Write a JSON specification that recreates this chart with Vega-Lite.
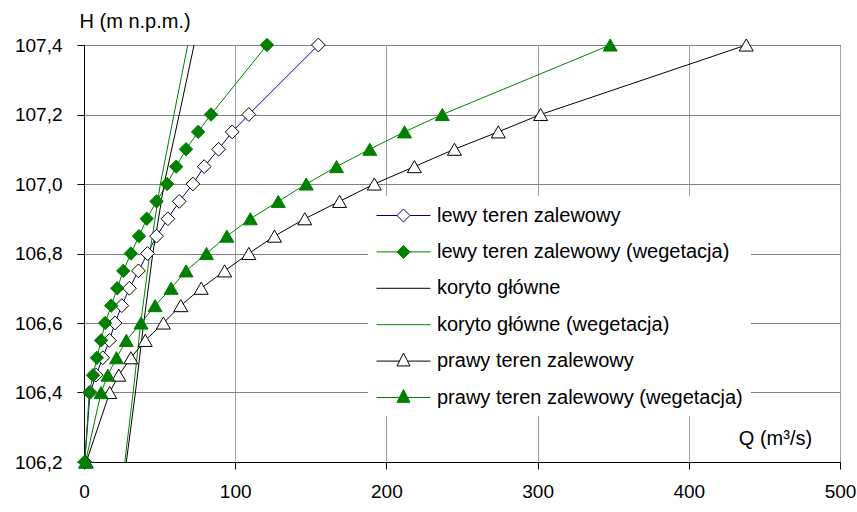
{
  "$schema": "https://vega.github.io/schema/vega-lite/v6.json",
  "width": 756,
  "height": 417,
  "autosize": {"type": "none"},
  "padding": {"left": 84, "top": 45, "right": 17, "bottom": 50},
  "background": "white",
  "config": {
    "font": "Liberation Sans",
    "view": {"stroke": "black", "strokeWidth": 1},
    "axis": {"labelColor": "black", "titleColor": "black", "domainColor": "black", "tickColor": "black", "titleFontWeight": "normal"}
  },
  "data": {"values": [
    {"s": "lewy teren zalewowy", "H": 106.2, "Q": 0.5},
    {"s": "lewy teren zalewowy", "H": 106.4, "Q": 4},
    {"s": "lewy teren zalewowy", "H": 106.45, "Q": 8},
    {"s": "lewy teren zalewowy", "H": 106.5, "Q": 12.4},
    {"s": "lewy teren zalewowy", "H": 106.55, "Q": 16.8},
    {"s": "lewy teren zalewowy", "H": 106.6, "Q": 20.5},
    {"s": "lewy teren zalewowy", "H": 106.65, "Q": 25},
    {"s": "lewy teren zalewowy", "H": 106.7, "Q": 30},
    {"s": "lewy teren zalewowy", "H": 106.75, "Q": 36},
    {"s": "lewy teren zalewowy", "H": 106.8, "Q": 42},
    {"s": "lewy teren zalewowy", "H": 106.85, "Q": 48},
    {"s": "lewy teren zalewowy", "H": 106.9, "Q": 55.5},
    {"s": "lewy teren zalewowy", "H": 106.95, "Q": 63},
    {"s": "lewy teren zalewowy", "H": 107.0, "Q": 72},
    {"s": "lewy teren zalewowy", "H": 107.05, "Q": 79.5},
    {"s": "lewy teren zalewowy", "H": 107.1, "Q": 89},
    {"s": "lewy teren zalewowy", "H": 107.15, "Q": 98},
    {"s": "lewy teren zalewowy", "H": 107.2, "Q": 109},
    {"s": "lewy teren zalewowy", "H": 107.4, "Q": 155},
    {"s": "lewy teren zalewowy (wegetacja)", "H": 106.2, "Q": 0.5},
    {"s": "lewy teren zalewowy (wegetacja)", "H": 106.4, "Q": 3.5},
    {"s": "lewy teren zalewowy (wegetacja)", "H": 106.45, "Q": 6},
    {"s": "lewy teren zalewowy (wegetacja)", "H": 106.5, "Q": 8.5},
    {"s": "lewy teren zalewowy (wegetacja)", "H": 106.55, "Q": 11.3},
    {"s": "lewy teren zalewowy (wegetacja)", "H": 106.6, "Q": 14},
    {"s": "lewy teren zalewowy (wegetacja)", "H": 106.65, "Q": 18},
    {"s": "lewy teren zalewowy (wegetacja)", "H": 106.7, "Q": 22},
    {"s": "lewy teren zalewowy (wegetacja)", "H": 106.75, "Q": 26},
    {"s": "lewy teren zalewowy (wegetacja)", "H": 106.8, "Q": 31},
    {"s": "lewy teren zalewowy (wegetacja)", "H": 106.85, "Q": 36.4},
    {"s": "lewy teren zalewowy (wegetacja)", "H": 106.9, "Q": 41.5},
    {"s": "lewy teren zalewowy (wegetacja)", "H": 106.95, "Q": 48},
    {"s": "lewy teren zalewowy (wegetacja)", "H": 107.0, "Q": 55},
    {"s": "lewy teren zalewowy (wegetacja)", "H": 107.05, "Q": 61},
    {"s": "lewy teren zalewowy (wegetacja)", "H": 107.1, "Q": 67.5},
    {"s": "lewy teren zalewowy (wegetacja)", "H": 107.15, "Q": 75.5},
    {"s": "lewy teren zalewowy (wegetacja)", "H": 107.2, "Q": 84},
    {"s": "lewy teren zalewowy (wegetacja)", "H": 107.4, "Q": 121},
    {"s": "koryto główne", "H": 106.2, "Q": 28},
    {"s": "koryto główne", "H": 106.4, "Q": 34},
    {"s": "koryto główne", "H": 106.6, "Q": 39.5},
    {"s": "koryto główne", "H": 106.8, "Q": 45.5},
    {"s": "koryto główne", "H": 107.0, "Q": 53},
    {"s": "koryto główne", "H": 107.2, "Q": 63},
    {"s": "koryto główne", "H": 107.4, "Q": 72.8},
    {"s": "koryto główne (wegetacja)", "H": 106.2, "Q": 27},
    {"s": "koryto główne (wegetacja)", "H": 106.4, "Q": 32.5},
    {"s": "koryto główne (wegetacja)", "H": 106.6, "Q": 37.5},
    {"s": "koryto główne (wegetacja)", "H": 106.8, "Q": 43.5},
    {"s": "koryto główne (wegetacja)", "H": 107.0, "Q": 50.5},
    {"s": "koryto główne (wegetacja)", "H": 107.2, "Q": 59.5},
    {"s": "koryto główne (wegetacja)", "H": 107.4, "Q": 68.6},
    {"s": "prawy teren zalewowy", "H": 106.2, "Q": 1.5},
    {"s": "prawy teren zalewowy", "H": 106.4, "Q": 17},
    {"s": "prawy teren zalewowy", "H": 106.45, "Q": 23},
    {"s": "prawy teren zalewowy", "H": 106.5, "Q": 31},
    {"s": "prawy teren zalewowy", "H": 106.55, "Q": 40.5},
    {"s": "prawy teren zalewowy", "H": 106.6, "Q": 52.5},
    {"s": "prawy teren zalewowy", "H": 106.65, "Q": 64},
    {"s": "prawy teren zalewowy", "H": 106.7, "Q": 77.5},
    {"s": "prawy teren zalewowy", "H": 106.75, "Q": 93},
    {"s": "prawy teren zalewowy", "H": 106.8, "Q": 109},
    {"s": "prawy teren zalewowy", "H": 106.85, "Q": 126},
    {"s": "prawy teren zalewowy", "H": 106.9, "Q": 146},
    {"s": "prawy teren zalewowy", "H": 106.95, "Q": 169},
    {"s": "prawy teren zalewowy", "H": 107.0, "Q": 192},
    {"s": "prawy teren zalewowy", "H": 107.05, "Q": 218.5},
    {"s": "prawy teren zalewowy", "H": 107.1, "Q": 245},
    {"s": "prawy teren zalewowy", "H": 107.15, "Q": 274},
    {"s": "prawy teren zalewowy", "H": 107.2, "Q": 302},
    {"s": "prawy teren zalewowy", "H": 107.4, "Q": 438},
    {"s": "prawy teren zalewowy (wegetacja)", "H": 106.2, "Q": 1},
    {"s": "prawy teren zalewowy (wegetacja)", "H": 106.4, "Q": 11.3},
    {"s": "prawy teren zalewowy (wegetacja)", "H": 106.45, "Q": 15.8},
    {"s": "prawy teren zalewowy (wegetacja)", "H": 106.5, "Q": 21.5},
    {"s": "prawy teren zalewowy (wegetacja)", "H": 106.55, "Q": 28},
    {"s": "prawy teren zalewowy (wegetacja)", "H": 106.6, "Q": 37.7},
    {"s": "prawy teren zalewowy (wegetacja)", "H": 106.65, "Q": 47},
    {"s": "prawy teren zalewowy (wegetacja)", "H": 106.7, "Q": 57.6},
    {"s": "prawy teren zalewowy (wegetacja)", "H": 106.75, "Q": 67.5},
    {"s": "prawy teren zalewowy (wegetacja)", "H": 106.8, "Q": 81},
    {"s": "prawy teren zalewowy (wegetacja)", "H": 106.85, "Q": 94.5},
    {"s": "prawy teren zalewowy (wegetacja)", "H": 106.9, "Q": 110},
    {"s": "prawy teren zalewowy (wegetacja)", "H": 106.95, "Q": 128.5},
    {"s": "prawy teren zalewowy (wegetacja)", "H": 107.0, "Q": 147},
    {"s": "prawy teren zalewowy (wegetacja)", "H": 107.05, "Q": 167},
    {"s": "prawy teren zalewowy (wegetacja)", "H": 107.1, "Q": 189},
    {"s": "prawy teren zalewowy (wegetacja)", "H": 107.15, "Q": 212},
    {"s": "prawy teren zalewowy (wegetacja)", "H": 107.2, "Q": 237},
    {"s": "prawy teren zalewowy (wegetacja)", "H": 107.4, "Q": 348}
  ]},
  "encoding": {
    "x": {"field": "Q", "type": "quantitative",
      "scale": {"domain": [0, 500], "nice": false},
      "axis": {"values": [0, 100, 200, 300, 400, 500], "grid": true, "gridColor": "#a0a0a0", "gridWidth": 1,
        "tickSize": 7, "labelFontSize": 19, "labelPadding": 13, "labelFlush": false,
        "title": "Q (m³/s)", "titleFontSize": 20, "titleX": 691, "titleY": -24, "titleAlign": "center", "titleBaseline": "middle", "titleAnchor": null}},
    "y": {"field": "H", "type": "quantitative",
      "scale": {"domain": [106.2, 107.4], "zero": false, "nice": false},
      "axis": {"values": [106.2, 106.4, 106.6, 106.8, 107.0, 107.2, 107.4], "grid": true, "gridColor": "#808080", "gridWidth": 1,
        "tickSize": 7, "labelFontSize": 19, "labelPadding": 15, "labelFlush": false,
        "labelExpr": "replace(format(datum.value, '.1f'), '.', ',')",
        "title": "H (m n.p.m.)", "titleFontSize": 20, "titleAngle": 0, "titleAlign": "left", "titleBaseline": "middle", "titleX": -5, "titleY": -24, "titleAnchor": null}}
  },
  "layer": [
    {
      "mark": {"type": "line", "strokeWidth": 1},
      "encoding": {
        "color": {"field": "s", "type": "nominal",
          "scale": {"domain": ["prawy teren zalewowy (wegetacja)", "prawy teren zalewowy", "koryto główne (wegetacja)", "koryto główne", "lewy teren zalewowy (wegetacja)", "lewy teren zalewowy"],
                    "range": ["#008000", "#000000", "#008000", "#000000", "#008000", "#000080"]},
          "legend": null},
        "order": {"field": "H", "type": "quantitative"}
      }
    },
    {
      "transform": [{"filter": "datum.s == 'lewy teren zalewowy'"}],
      "mark": {"type": "point", "shape": "diamond", "filled": true, "fill": "white", "stroke": "black", "strokeWidth": 1, "size": 190, "opacity": 1}
    },
    {
      "transform": [{"filter": "datum.s == 'lewy teren zalewowy (wegetacja)'"}],
      "mark": {"type": "point", "shape": "diamond", "filled": true, "fill": "#008000", "stroke": "#008000", "strokeWidth": 1, "size": 180, "opacity": 1}
    },
    {
      "transform": [{"filter": "datum.s == 'prawy teren zalewowy'"}],
      "mark": {"type": "point", "shape": "triangle-up", "filled": true, "fill": "white", "stroke": "black", "strokeWidth": 1, "size": 196, "opacity": 1}
    },
    {
      "transform": [{"filter": "datum.s == 'prawy teren zalewowy (wegetacja)'"}],
      "mark": {"type": "point", "shape": "triangle-up", "filled": true, "fill": "#008000", "stroke": "#008000", "strokeWidth": 1, "size": 196, "opacity": 1}
    },
    {
      "mark": {"type": "point", "filled": true, "strokeWidth": 1, "opacity": 1, "size": 0},
      "encoding": {
        "stroke": {"field": "s", "type": "nominal",
          "scale": {"domain": ["lewy teren zalewowy", "lewy teren zalewowy (wegetacja)", "koryto główne", "koryto główne (wegetacja)", "prawy teren zalewowy", "prawy teren zalewowy (wegetacja)"],
                    "range": ["#000080", "#008000", "#000000", "#008000", "#000000", "#008000"]},
          "legend": {"title": null, "orient": "none", "legendX": 284, "legendY": 151, "labelFontSize": 20, "labelColor": "black", "symbolSize": 466, "symbolStrokeWidth": 1, "symbolOffset": 16, "labelOffset": 22, "fillColor": "white", "padding": 8, "rowPadding": 14.4, "labelLimit": 500}},
        "fill": {"field": "s", "type": "nominal",
          "scale": {"domain": ["lewy teren zalewowy", "lewy teren zalewowy (wegetacja)", "koryto główne", "koryto główne (wegetacja)", "prawy teren zalewowy", "prawy teren zalewowy (wegetacja)"],
                    "range": ["white", "#008000", "transparent", "transparent", "white", "#008000"]},
          "legend": {"title": null, "orient": "none", "legendX": 284, "legendY": 151, "labelFontSize": 20, "labelColor": "black", "symbolSize": 466, "symbolStrokeWidth": 1, "symbolOffset": 16, "labelOffset": 22, "fillColor": "white", "padding": 8, "rowPadding": 14.4, "labelLimit": 500}},
        "shape": {"field": "s", "type": "nominal",
          "scale": {"domain": ["lewy teren zalewowy", "lewy teren zalewowy (wegetacja)", "koryto główne", "koryto główne (wegetacja)", "prawy teren zalewowy", "prawy teren zalewowy (wegetacja)"],
                    "range": ["M-2.5,0H-0.6M0.6,0H2.5M0,-0.6L0.6,0L0,0.6L-0.6,0Z", "M-2.5,0H2.5M0,-0.6L0.6,0L0,0.6L-0.6,0Z", "M-2.5,0H2.5", "M-2.5,0H2.5", "M-2.5,0H-0.37M0.37,0H2.5M0,-0.75L0.6,0.45L-0.6,0.45Z", "M-2.5,0H2.5M0,-0.75L0.6,0.45L-0.6,0.45Z"]},
          "legend": {"title": null, "orient": "none", "legendX": 284, "legendY": 151, "labelFontSize": 20, "labelColor": "black", "symbolSize": 466, "symbolStrokeWidth": 1, "symbolOffset": 16, "labelOffset": 22, "fillColor": "white", "padding": 8, "rowPadding": 14.4, "labelLimit": 500}}
      }
    }
  ]
}
